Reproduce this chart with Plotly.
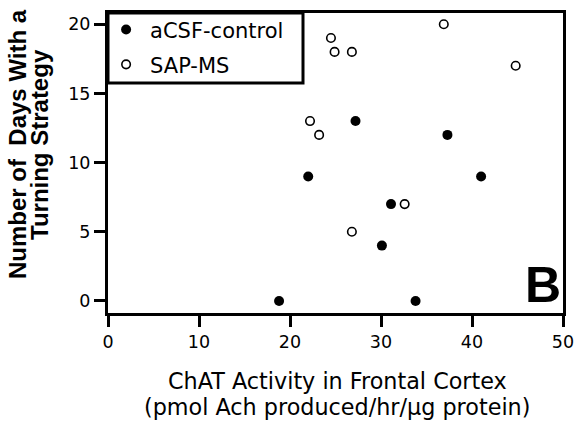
import plotly.graph_objects as go

# Data
control_x = [18.8, 33.8, 27.2, 37.3, 22.0, 41.0, 31.1, 30.1]
control_y = [0, 0, 13, 12, 9, 9, 7, 4]
sap_x = [36.9, 24.5, 24.9, 26.8, 44.8, 22.2, 23.2, 32.6, 26.8]
sap_y = [20, 19, 18, 18, 17, 13, 12, 7, 5]

x_ticks = [0, 10, 20, 30, 40, 50]
y_ticks = [0, 5, 10, 15, 20]

series_names = ["aCSF-control", "SAP-MS"]
x_title_lines = ["ChAT Activity in Frontal Cortex", "(pmol Ach produced/hr/µg protein)"]
y_title_lines = ["Number of  Days With a", "Turning Strategy"]
panel_label = "B"

W, H = 577, 423
L, R, T, B = 108, 14, 13, 110
PW, PH = W - L - R, H - T - B

def px_to_paper_x(px):
    return (px - L) / PW

def px_to_paper_y(py):
    return (H - B - py) / PH

fig = go.Figure()
fig.add_trace(go.Scatter(
    x=control_x, y=control_y, mode="markers", name=series_names[0],
    legendgroup="a",
    marker=dict(symbol="circle", size=10, color="black", line=dict(width=0)),
))
fig.add_trace(go.Scatter(
    x=sap_x, y=sap_y, mode="markers", name=series_names[1],
    legendgroup="b",
    marker=dict(symbol="circle-open", size=8.5, color="black", line=dict(width=1.6)),
))

tick_font = dict(family="DejaVu Sans", size=17.5, color="black")
axis_common = dict(
    showline=True, linewidth=3, linecolor="black", mirror=True,
    ticks="outside", ticklen=11, tickwidth=3, tickcolor="black",
    showgrid=False, zeroline=False, tickfont=tick_font,
)
fig.update_xaxes(range=[0, 50], tickvals=x_ticks, **axis_common)
fig.update_yaxes(range=[-0.87, 20.81], tickvals=y_ticks, ticklabelstandoff=0, **axis_common)

annotations = []
# x title lines
annotations.append(dict(text=x_title_lines[0], xref="paper", yref="paper",
                        x=px_to_paper_x(337), y=px_to_paper_y(381), xanchor="center", yanchor="middle",
                        showarrow=False, font=dict(family="DejaVu Sans", size=22.3, color="black")))
annotations.append(dict(text=x_title_lines[1], xref="paper", yref="paper",
                        x=px_to_paper_x(337), y=px_to_paper_y(407), xanchor="center", yanchor="middle",
                        showarrow=False, font=dict(family="DejaVu Sans", size=22.3, color="black")))
# y title lines
annotations.append(dict(text="<b>" + y_title_lines[0] + "</b>", xref="paper", yref="paper",
                        x=px_to_paper_x(17), y=px_to_paper_y(144), xanchor="center", yanchor="middle",
                        textangle=-90, showarrow=False,
                        font=dict(family="Liberation Sans", size=24, color="black")))
annotations.append(dict(text="<b>" + y_title_lines[1] + "</b>", xref="paper", yref="paper",
                        x=px_to_paper_x(40), y=px_to_paper_y(145), xanchor="center", yanchor="middle",
                        textangle=-90, showarrow=False,
                        font=dict(family="Liberation Sans", size=24, color="black")))
# panel label
annotations.append(dict(text="<b>" + panel_label + "</b>", xref="paper", yref="paper",
                        x=px_to_paper_x(543), y=px_to_paper_y(285), xanchor="center", yanchor="middle",
                        showarrow=False,
                        font=dict(family="Liberation Sans", size=50, color="black")))

shapes = [dict(type="rect", xref="paper", yref="paper",
               x0=0, x1=px_to_paper_x(303), y0=px_to_paper_y(83), y1=1,
               line=dict(color="black", width=3), fillcolor="rgba(0,0,0,0)", layer="above")]

fig.update_layout(
    width=W, height=H,
    margin=dict(l=L, r=R, t=T, b=B, pad=0, autoexpand=False),
    paper_bgcolor="white", plot_bgcolor="white",
    showlegend=True,
    legend=dict(x=-0.013, y=1.012, xanchor="left", yanchor="top",
                bgcolor="rgba(0,0,0,0)", borderwidth=0, tracegroupgap=4.5,
                itemwidth=38,
                font=dict(family="DejaVu Sans", size=21, color="black")),
    annotations=annotations, shapes=shapes,
)

fig.write_html("out.html")
